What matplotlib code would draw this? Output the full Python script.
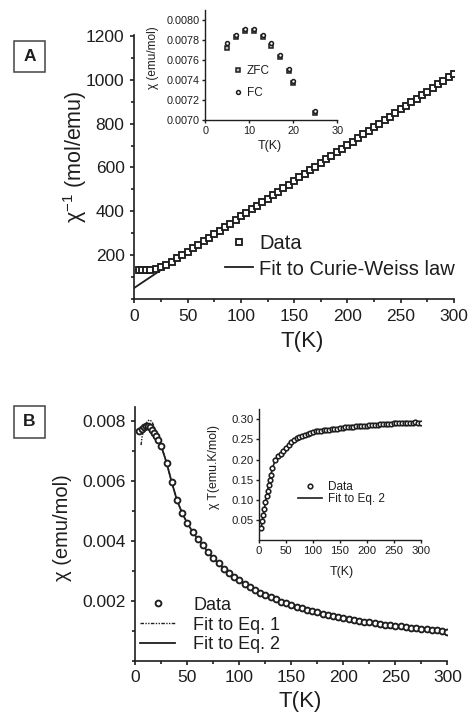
import matplotlib
matplotlib.use('Agg')
import numpy as np
import matplotlib.pyplot as plt
from matplotlib.patches import Rectangle
from matplotlib.lines import Line2D
from matplotlib.ticker import MultipleLocator, FormatStrFormatter

plt.rcParams['font.family'] = ['Liberation Sans', 'DejaVu Sans']
plt.rcParams['mathtext.fontset'] = 'custom'
plt.rcParams['mathtext.rm'] = 'Liberation Sans'
plt.rcParams['mathtext.it'] = 'Liberation Sans'

INK = '#1e1e1e'
W, H = 471, 712

# ---- panel A : 1/chi vs T ----
T_a = [4, 7.5, 11, 15] + list(range(20, 301, 5))
inv_chi = [132, 131, 131, 133,
           137, 144, 156, 170, 185, 200, 216, 231, 247, 263,
           279, 295, 311, 327, 343, 360, 376, 392, 408, 425,
           441, 457, 474, 490, 506, 522, 539, 555, 571, 588,
           604, 620, 637, 653, 669, 685, 702, 718, 734, 751,
           767, 783, 800, 816, 832, 848, 865, 881, 897, 913,
           930, 946, 962, 979, 995, 1011, 1026]
fit_T = [0, 300]
fit_inv = [50, 1028]

# ---- panel A inset : ZFC / FC ----
T_zfc = [5, 7, 9, 11, 13, 15, 17, 19, 20, 25]
chi_zfc = [0.00772, 0.00783, 0.00789, 0.00789, 0.00783, 0.00774, 0.00763, 0.00749, 0.00737, 0.00707]
chi_fc = [0.00777, 0.00785, 0.00791, 0.00791, 0.00785, 0.00777, 0.00765, 0.00751, 0.00739, 0.00709]

# ---- panel B : chi vs T ----
T_b = [4, 6, 8, 10, 12, 14, 16, 18, 20, 22] + list(range(25, 301, 5))
chi_b = [0.00765, 0.00773, 0.00779, 0.00782, 0.00781, 0.00777, 0.00770, 0.00760, 0.00748, 0.00735,
         0.00715, 0.00660, 0.00595, 0.00535, 0.00492, 0.00458, 0.00430, 0.00406, 0.00384, 0.00362,
         0.00342, 0.00324, 0.00307, 0.00293, 0.00280, 0.00268, 0.00257, 0.00246, 0.00236, 0.00227,
         0.00219, 0.00211, 0.00204, 0.00197, 0.00191, 0.00185, 0.00180, 0.00175, 0.00170, 0.00165,
         0.00161, 0.00157, 0.00153, 0.00149, 0.00146, 0.00142, 0.00139, 0.00136, 0.00133, 0.00130,
         0.00128, 0.00125, 0.00123, 0.00120, 0.00118, 0.00116, 0.00114, 0.00112, 0.00110, 0.00108,
         0.00106, 0.00104, 0.00102, 0.00101, 0.00099, 0.00097]
T_eq1 = [5.5, 6.5, 8, 10, 12, 14, 16, 18, 20, 22, 25, 30, 35, 40, 45, 50]
chi_eq1 = [0.00718, 0.00745, 0.00768, 0.00788, 0.00799, 0.00802, 0.00796, 0.00781,
           0.00762, 0.00742, 0.00713, 0.00660, 0.00595, 0.00535, 0.00492, 0.00458]
# fit to Eq. 2 runs through the data
chi_eq2 = chi_b


def box(l, t, r, b):
    return [l / W, 1 - b / H, (r - l) / W, (b - t) / H]


def style(ax, lw, size, length, pad):
    for s in ['top', 'right']:
        ax.spines[s].set_visible(False)
    for s in ['left', 'bottom']:
        ax.spines[s].set_linewidth(lw)
        ax.spines[s].set_color(INK)
    ax.tick_params(which='major', direction='out', length=length, width=lw, labelsize=size,
                   pad=pad, colors=INK)
    ax.tick_params(which='minor', direction='out', length=length * 0.65, width=lw, colors=INK)


fig = plt.figure(figsize=(W / 100, H / 100), dpi=100)

sq = dict(ls='none', marker='s', ms=3.7, mfc='white', mec=INK, mew=1.35)
circ = dict(ls='none', marker='o', ms=4.2, mfc='white', mec=INK, mew=1.35)
circ_s = dict(ls='none', marker='o', ms=3.3, mfc='white', mec=INK, mew=1.15)

# ---------------- A main ----------------
axA = fig.add_axes(box(134.3, 35, 454, 298.8))
axA.plot(fit_T, fit_inv, '-', color=INK, lw=1.3, zorder=2)
axA.plot(T_a, inv_chi, zorder=3, **sq)
axA.set_xlim(0, 300)
axA.set_ylim(0, 1205)
axA.xaxis.set_major_locator(MultipleLocator(50))
axA.xaxis.set_minor_locator(MultipleLocator(25))
axA.yaxis.set_minor_locator(MultipleLocator(100))
axA.set_yticks([200, 400, 600, 800, 1000, 1200])
style(axA, 1.2, 12.5, 3, 4)
axA.set_xlabel('T(K)', fontsize=16, va='center', color=INK)
axA.xaxis.set_label_coords((301.7 - 134.3) / 319.7, (298.8 - 341.7) / 263.8)
axA.set_ylabel(r'χ$^{-1}$ (mol/emu)', fontsize=15.5, va='center', color=INK)
axA.yaxis.set_label_coords((75 - 134.3) / 319.7, (298.8 - 157) / 263.8)
hA = [Line2D([], [], **sq), Line2D([], [], ls='-', color=INK, lw=1.3)]
axA.legend(hA, ['Data', 'Fit to Curie-Weiss law'], loc='center left',
           bbox_to_anchor=(225 / W, 1 - 256.5 / H), bbox_transform=fig.transFigure,
           frameon=False, fontsize=14.5, handlelength=1.4, handletextpad=0.3,
           labelspacing=0.3, borderpad=0, borderaxespad=0, labelcolor=INK)

# ---------------- A inset ----------------
zfc = dict(ls='none', marker='s', ms=2.8, mfc='#bbbbbb', mec=INK, mew=1.1)
fc = dict(ls='none', marker='o', ms=2.8, mfc='white', mec=INK, mew=1.1)
axAi = fig.add_axes(box(205.3, 10, 337.3, 120))
axAi.plot(T_zfc, chi_zfc, zorder=3, **zfc)
axAi.plot(T_zfc, chi_fc, zorder=4, **fc)
axAi.set_xlim(0, 30)
axAi.set_ylim(0.0070, 0.0081)
axAi.set_xticks([0, 10, 20, 30])
axAi.set_yticks([0.0070, 0.0072, 0.0074, 0.0076, 0.0078, 0.0080])
axAi.yaxis.set_major_formatter(FormatStrFormatter('%.4f'))
style(axAi, 1.0, 7.8, 2, 2)
axAi.set_xlabel('T(K)', fontsize=9, va='center', color=INK)
axAi.xaxis.set_label_coords((270 - 205.3) / 132, (120 - 146) / 110)
axAi.set_ylabel('χ (emu/mol)', fontsize=8.5, va='center', color=INK)
axAi.yaxis.set_label_coords((153 - 205.3) / 132, (120 - 58) / 110)
hAi = [Line2D([], [], **zfc), Line2D([], [], **fc)]
axAi.legend(hAi, ['ZFC', 'FC'], loc='center left',
            bbox_to_anchor=(234 / W, 1 - 81.7 / H), bbox_transform=fig.transFigure,
            frameon=False, fontsize=8.5, handlelength=0.6, handletextpad=0.5,
            labelspacing=0.85, borderpad=0, borderaxespad=0, labelcolor=INK)

# ---------------- B main ----------------
dash1 = (2.5, 1, 1, 1, 1, 1)
axB = fig.add_axes(box(135.3, 407, 447.3, 660.7))
axB.plot(T_eq1, chi_eq1, color=INK, lw=1.0, dashes=dash1, zorder=2)
axB.plot(T_b, chi_eq2, '-', color=INK, lw=1.3, zorder=2)
axB.plot(T_b, chi_b, zorder=3, **circ)
axB.set_xlim(0, 300)
axB.set_ylim(0, 0.00845)
axB.xaxis.set_major_locator(MultipleLocator(50))
axB.xaxis.set_minor_locator(MultipleLocator(25))
axB.set_yticks([0.002, 0.004, 0.006, 0.008])
axB.yaxis.set_minor_locator(MultipleLocator(0.001))
axB.yaxis.set_major_formatter(FormatStrFormatter('%.3f'))
style(axB, 1.2, 12.5, 3, 4)
axB.set_xlabel('T(K)', fontsize=16, va='center', color=INK)
axB.xaxis.set_label_coords((300 - 135.3) / 312, (660.7 - 701.7) / 253.7)
axB.set_ylabel('χ (emu/mol)', fontsize=14.5, va='center', color=INK)
axB.yaxis.set_label_coords((62.5 - 135.3) / 312, (660.7 - 528) / 253.7)
hB = [Line2D([], [], **circ),
      Line2D([], [], color=INK, lw=1.0, dashes=dash1),
      Line2D([], [], ls='-', color=INK, lw=1.3)]
axB.legend(hB, ['Data', 'Fit to Eq. 1', 'Fit to Eq. 2'], loc='center left',
           bbox_to_anchor=(140 / W, 1 - 625 / H), bbox_transform=fig.transFigure,
           frameon=False, fontsize=13, handlelength=1.95, handletextpad=1.0,
           labelspacing=0.15, borderpad=0, borderaxespad=0, labelcolor=INK)

# ---------------- B inset ----------------
chiT_b = np.array(T_b) * np.array(chi_b)
chiT_eq2 = np.array(T_b) * np.array(chi_eq2)
axBi = fig.add_axes(box(259, 409.3, 420.7, 540.1))
axBi.plot(T_b, chiT_eq2, '-', color=INK, lw=1.2, zorder=2)
axBi.plot(T_b, chiT_b, zorder=3, **circ_s)
axBi.set_xlim(0, 300)
axBi.set_ylim(0, 0.325)
axBi.set_xticks([0, 50, 100, 150, 200, 250, 300])
axBi.set_yticks([0.05, 0.10, 0.15, 0.20, 0.25, 0.30])
axBi.yaxis.set_major_formatter(FormatStrFormatter('%.2f'))
style(axBi, 1.0, 8.2, 2, 2)
axBi.set_xlabel('T(K)', fontsize=9, va='center', color=INK)
axBi.xaxis.set_label_coords((341.7 - 259) / 161.7, (540.1 - 571.7) / 130.8)
axBi.set_ylabel('χ T(emu.K/mol)', fontsize=8.8, va='center', color=INK)
axBi.yaxis.set_label_coords((214.3 - 259) / 161.7, (540.1 - 467) / 130.8)
hBi = [Line2D([], [], **circ_s), Line2D([], [], ls='-', color=INK, lw=1.2)]
axBi.legend(hBi, ['Data', 'Fit to Eq. 2'], loc='center left',
            bbox_to_anchor=(298.3 / W, 1 - 493 / H), bbox_transform=fig.transFigure,
            frameon=False, fontsize=8.5, handlelength=2.0, handletextpad=0.55,
            labelspacing=0.05, borderpad=0, borderaxespad=0, labelcolor=INK)

# panel letters
for letter, top in [('A', 40.7), ('B', 406)]:
    fig.add_artist(Rectangle((14 / W, 1 - (top + 31.6) / H), 31 / W, 31.6 / H,
                             transform=fig.transFigure, fill=False, lw=1.1, ec='#444444'))
    fig.text(29.5 / W, 1 - (top + 15.8) / H, letter, ha='center', va='center',
             fontsize=12.5, fontweight='bold', color=INK)

fig.savefig('out.png', dpi=100)
